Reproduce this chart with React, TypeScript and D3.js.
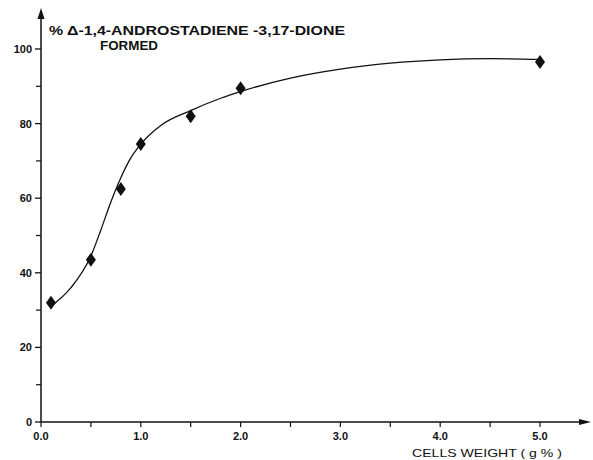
import React from "react";
import * as d3 from "d3";

const WIDTH = 593;
const HEIGHT = 460;

// measured points (cells weight g%, % product formed)
const weights = [0.1, 0.5, 0.8, 1.0, 1.5, 2.0, 5.0];
const formed = [32, 43.5, 62.5, 74.5, 82, 89.5, 96.5];

// hand drawn fitted curve
const curveX = [0.1, 0.3, 0.5, 0.6, 0.7, 0.8, 0.9, 1.0, 1.2, 1.5, 1.8, 2.0, 2.5, 3.0, 3.5, 4.0, 4.5, 5.0];
const curveY = [31, 36, 44.5, 51.5, 59, 65.5, 70.8, 74.5, 79.5, 83.5, 86.8, 88.6, 92.2, 94.6, 96.2, 97.1, 97.4, 97.2];

const yMajor = [0, 20, 40, 60, 80, 100];
const yMinor = [10, 30, 50, 70, 90];
const xLabels = ["0.0", "1.0", "2.0", "3.0", "4.0", "5.0"];
const xTicks = [0, 0.5, 1, 1.5, 2, 2.5, 3, 3.5, 4, 4.5, 5];

const INK = "#111";
const FONT = "'Liberation Sans Narrow', 'Liberation Sans', Arial, sans-serif";

export default function App() {
  const x = d3.scaleLinear().domain([0, 5]).range([41, 540]);
  const y = d3.scaleLinear().domain([0, 100]).range([422, 49]);

  const line = d3
    .line<number>()
    .x((d) => x(d))
    .y((_, i) => y(curveY[i]))
    .curve(d3.curveMonotoneX);
  const curvePath = line(curveX) || "";

  const x0 = x(0);
  const y0 = y(0);

  return (
    <svg
      width={WIDTH}
      height={HEIGHT}
      style={{ position: "absolute", left: 0, top: 0, background: "#fff" }}
    >
      {/* axes */}
      <line x1={x0} y1={y0} x2={x0} y2={16} stroke={INK} strokeWidth={1.5} />
      <path d={`M${x0},8 L${x0 - 3.5},19 L${x0 + 3.5},19 Z`} fill={INK} />
      <line x1={x0} y1={y0} x2={582} y2={y0} stroke={INK} strokeWidth={1.5} />
      <path d={`M591,${y0} L579,${y0 - 3} L579,${y0 + 3} Z`} fill={INK} />

      {/* y ticks */}
      {yMajor.map((v) => (
        <g key={"ym" + v}>
          <line x1={x0 - 6} x2={x0} y1={y(v)} y2={y(v)} stroke={INK} strokeWidth={1.3} />
          <text
            x={32}
            y={y(v) + 4}
            textAnchor="end"
            fontFamily={FONT}
            fontWeight="bold"
            fontSize={11}
            fill={INK}
          >
            {v}
          </text>
        </g>
      ))}
      {yMinor.map((v) => (
        <line key={"yn" + v} x1={x0 - 5} x2={x0} y1={y(v)} y2={y(v)} stroke={INK} strokeWidth={1.2} />
      ))}

      {/* x ticks */}
      {xTicks.map((v) => (
        <line key={"xt" + v} x1={x(v)} x2={x(v)} y1={y0} y2={y0 + 5} stroke={INK} strokeWidth={1.2} />
      ))}
      {xLabels.map((s, i) => (
        <text
          key={"xl" + s}
          x={x(i)}
          y={440}
          textAnchor="middle"
          fontFamily={FONT}
          fontWeight="bold"
          fontSize={11}
          fill={INK}
        >
          {s}
        </text>
      ))}

      {/* fitted curve */}
      <path d={curvePath} fill="none" stroke={INK} strokeWidth={1.3} />

      {/* data points */}
      {weights.map((w, i) => (
        <path
          key={"pt" + i}
          d="M0,-7 L5,0 L0,7 L-5,0 Z"
          transform={`translate(${x(w)},${y(formed[i])})`}
          fill={INK}
        />
      ))}

      {/* titles */}
      <text
        x={49}
        y={35}
        fontFamily={FONT}
        fontWeight="bold"
        fontSize={13}
        fill={INK}
        textLength={296}
        lengthAdjust="spacingAndGlyphs"
      >
        % Δ-1,4-ANDROSTADIENE -3,17-DIONE
      </text>
      <text
        x={100}
        y={50}
        fontFamily={FONT}
        fontWeight="bold"
        fontSize={13}
        fill={INK}
        textLength={58}
        lengthAdjust="spacingAndGlyphs"
      >
        FORMED
      </text>
      <text
        x={412}
        y={457}
        fontFamily={FONT}
        fontSize={11.5}
        fill={INK}
        textLength={150}
        lengthAdjust="spacingAndGlyphs"
      >
        CELLS WEIGHT ( g % )
      </text>
    </svg>
  );
}
